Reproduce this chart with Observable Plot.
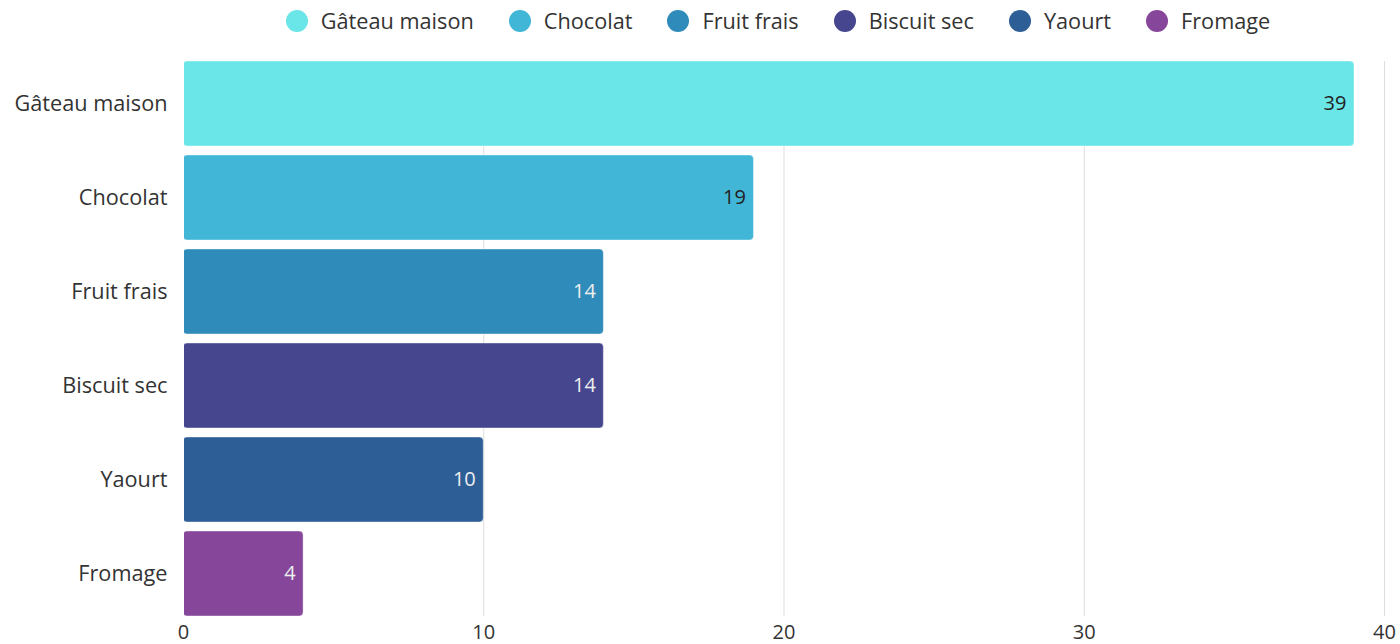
<!DOCTYPE html>
<html>
<head>
<meta charset="utf-8">
<script src="https://cdn.jsdelivr.net/npm/d3@7"></script>
<script src="https://cdn.jsdelivr.net/npm/@observablehq/plot@0.6"></script>
<style>
  body { margin: 0; background: #fff; font-family: "Open Sans", sans-serif; }
  #legend { display: flex; justify-content: center; align-items: center; height: 41px; padding-left: 156px; box-sizing: border-box; width: 1400px; font-size: 21.7px; color: #333; }
  .item { display: flex; align-items: center; margin: 0 17.5px; }
  .dot { width: 22px; height: 22px; border-radius: 50%; margin-right: 13px; }
</style>
</head>
<body>
<div id="legend"></div>
<div id="chart"></div>
<script>
const categories = ["Gâteau maison", "Chocolat", "Fruit frais", "Biscuit sec", "Yaourt", "Fromage"];
const values = [39, 19, 14, 14, 10, 4];
const colors = ["#6ae5e8", "#42b6d6", "#2e8bba", "#46468f", "#2e5e96", "#86479a"];
const labelColors = ["#222", "#222", "#eee", "#eee", "#eee", "#eee"];
const xTicks = [0, 10, 20, 30, 40];

const data = categories.map((c, i) => ({ category: c, value: values[i], color: colors[i], labelColor: labelColors[i] }));

const legend = document.getElementById("legend");
categories.forEach((c, i) => {
  const it = document.createElement("div");
  it.className = "item";
  it.innerHTML = `<span class="dot" style="background:${colors[i]}"></span><span>${c}</span>`;
  legend.appendChild(it);
});

const chart = Plot.plot({
  width: 1400,
  height: 603,
  marginLeft: 183,
  marginRight: 16,
  marginTop: 20,
  marginBottom: 28,
  style: { fontFamily: "Open Sans, sans-serif", fontSize: "20px", color: "#333", background: "#fff" },
  x: { domain: [0, 40], ticks: xTicks, label: null },
  y: { domain: categories, paddingInner: 0.1, paddingOuter: 0, label: null },
  marks: [
    Plot.gridX(xTicks, { stroke: "#ddd", strokeOpacity: 1 }),
    Plot.barX(data, { x: "value", y: "category", fill: "color", rx: 4, stroke: "#fff", strokeOpacity: 0.4, strokeWidth: 1 }),
    Plot.text(data, { x: "value", y: "category", text: d => String(d.value), fill: "labelColor", textAnchor: "end", dx: -8, fontSize: 20 }),
    Plot.axisY({ tickSize: 0, tickPadding: 16, fontSize: 21.7 }),
    Plot.axisX(xTicks, { tickSize: 0, tickPadding: 8, fontSize: 20 }),
    Plot.ruleX([0], { stroke: "#fff", strokeWidth: 1 })
  ]
});
document.getElementById("chart").appendChild(chart);
</script>
</body>
</html>
